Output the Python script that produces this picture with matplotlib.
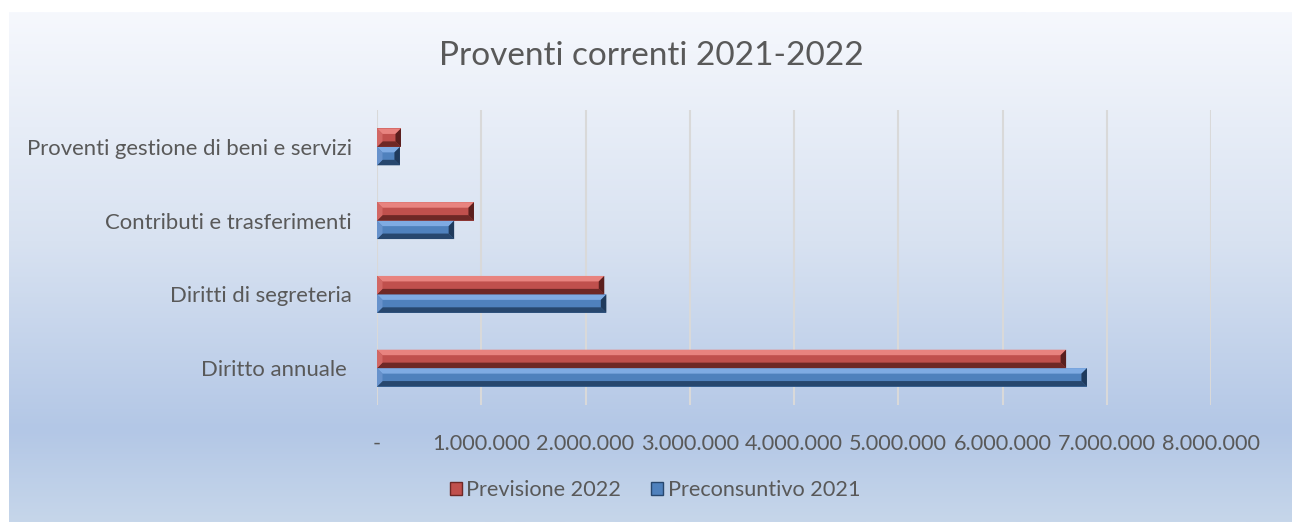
import numpy as np
import matplotlib
matplotlib.use("Agg")
import matplotlib.pyplot as plt
from matplotlib.patches import Polygon, Rectangle
from matplotlib.colors import LinearSegmentedColormap
from matplotlib.ticker import FixedLocator, FuncFormatter

plt.rcParams['font.family'] = ['Lato', 'DejaVu Sans']

# Data
categories = ["Diritto annuale ", "Diritti di segreteria",
              "Contributi e trasferimenti", "Proventi gestione di beni e servizi"]
preconsuntivo_2021 = [6_810_000, 2_200_000, 740_000, 220_000]
previsione_2022 = [6_610_000, 2_180_000, 930_000, 230_000]
x_ticks = [0, 1_000_000, 2_000_000, 3_000_000, 4_000_000,
           5_000_000, 6_000_000, 7_000_000, 8_000_000]
title = "Proventi correnti 2021-2022"

TEXT = "#595959"
RED = {"face": "#c0504d", "top": "#e8837f", "left": "#d26764",
       "bottom": "#6e2826", "right": "#5a1f1e"}
BLUE = {"face": "#4f81bd", "top": "#7fabe3", "left": "#6792cc",
        "bottom": "#27476e", "right": "#1f3a5c"}

W, H = 1292, 522
fig = plt.figure(figsize=(W / 100, H / 100), dpi=100)
fig.patch.set_facecolor("white")

# Chart area background with vertical gradient
bg = fig.add_axes([9 / W, 0, 1 - 9 / W, (H - 12) / H])
bg.set_axis_off()
grad = LinearSegmentedColormap.from_list(
    "bg", [(0.0, "#f6f8fd"), (0.45, "#d8e2f1"), (0.82, "#b3c7e6"),
           (1.0, "#c6d6ea")])
bg.imshow(np.linspace(0, 1, 256)[:, None], aspect="auto", cmap=grad,
          extent=[0, 1, 0, 1], origin="upper")
bg.set_xlim(0, 1)
bg.set_ylim(0, 1)

# Plot area
ax = fig.add_axes([377 / W, (H - 405) / H, (1211 - 377) / W, (405 - 110) / H])
ax.patch.set_alpha(0)
for s in ax.spines.values():
    s.set_visible(False)

y = np.arange(len(categories))
h = 0.25
bars_blue = ax.barh(y - h / 2, preconsuntivo_2021, height=h,
                    color=BLUE["face"], zorder=3, label="Preconsuntivo 2021")
bars_red = ax.barh(y + h / 2, previsione_2022, height=h,
                   color=RED["face"], zorder=3, label="Previsione 2022")

ax.set_xlim(0, 8_000_000)
ax.set_ylim(-0.5, len(categories) - 0.5)
ax.xaxis.set_major_locator(FixedLocator(x_ticks))


def fmt(v, _):
    if v == 0:
        return "-"
    return f"{int(v):,}".replace(",", ".")


ax.xaxis.set_major_formatter(FuncFormatter(fmt))
ax.set_yticks(y)
ax.set_yticklabels(categories)
ax.tick_params(axis="x", length=0, pad=21, labelsize=15.6, labelcolor=TEXT)
ax.tick_params(axis="y", length=0, pad=18, labelsize=15.9, labelcolor=TEXT)
ax.grid(axis="x", color="#d9d9d9", linewidth=1.5, zorder=1)
ax.set_axisbelow(True)

# Bevelled bar edges, computed from each bar's on-screen rectangle
fig.canvas.draw()
inv = ax.transData.inverted()


def bevel(bar, pal, b=5.5):
    x0, y0 = ax.transData.transform((bar.get_x(), bar.get_y()))
    x1, y1 = ax.transData.transform((bar.get_x() + bar.get_width(),
                                     bar.get_y() + bar.get_height()))
    bb = min(b, (x1 - x0) / 2, (y1 - y0) / 2)
    shapes = {
        "top": [(x0, y1), (x1, y1), (x1 - bb, y1 - bb), (x0 + bb, y1 - bb)],
        "bottom": [(x0, y0), (x1, y0), (x1 - bb, y0 + bb), (x0 + bb, y0 + bb)],
        "left": [(x0, y0), (x0, y1), (x0 + bb, y1 - bb), (x0 + bb, y0 + bb)],
        "right": [(x1, y0), (x1, y1), (x1 - bb, y1 - bb), (x1 - bb, y0 + bb)],
    }
    for key, pts in shapes.items():
        ax.add_patch(Polygon(inv.transform(pts), closed=True,
                             facecolor=pal[key], edgecolor="none", zorder=4))


for bar in bars_blue:
    bevel(bar, BLUE)
for bar in bars_red:
    bevel(bar, RED)

# Title
fig.text(651 / W, (H - 56) / H, title, ha="center", va="center",
         fontsize=24, color=TEXT)

# Legend
handles = [Rectangle((0, 0), 1, 1, facecolor=RED["face"], edgecolor=RED["bottom"]),
           Rectangle((0, 0), 1, 1, facecolor=BLUE["face"], edgecolor=BLUE["bottom"])]
fig.legend(handles, ["Previsione 2022", "Preconsuntivo 2021"],
           loc="center", bbox_to_anchor=(655 / W, (H - 490) / H), ncol=2,
           frameon=False, fontsize=15.6, labelcolor=TEXT,
           handlelength=0.55, handleheight=0.55, handletextpad=0.2,
           columnspacing=1.4)

fig.savefig("out.png", dpi=100)
